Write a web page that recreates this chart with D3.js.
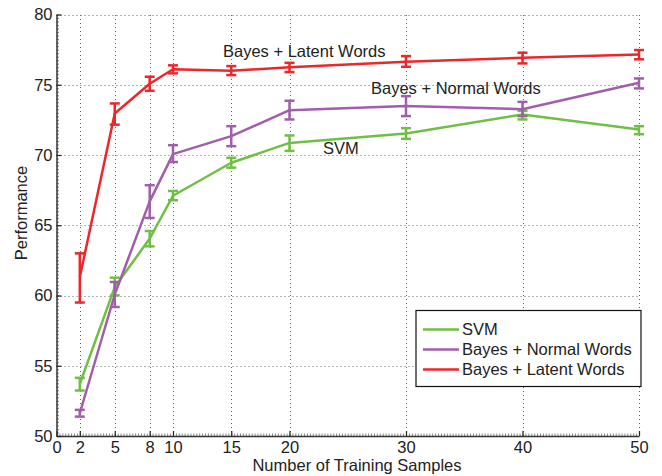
<!DOCTYPE html>
<html>
<head>
<meta charset="utf-8">
<script src="https://cdn.jsdelivr.net/npm/d3@7"></script>
<style>
  html, body { margin: 0; padding: 0; background: #fff; }
  svg { display: block; font-family: "Liberation Sans", Arial, Helvetica, sans-serif; }
</style>
</head>
<body>
<svg id="chart" width="662" height="476"></svg>
<script>
// Training-set sizes on the x axis
const samples = [2, 5, 8, 10, 15, 20, 30, 40, 50];

// SVM: mean performance with lower / upper error bounds
const svmMean = [53.7, 60.6, 64.05, 67.1, 69.45, 70.86, 71.53, 72.89, 71.82];
const svmLow  = [53.24, 60.01, 63.5, 66.78, 69.1, 70.29, 71.15, 72.53, 71.48];
const svmHigh = [54.14, 61.27, 64.59, 67.44, 69.8, 71.39, 71.91, 73.14, 72.05];

// Bayes + Normal Words
const normalMean = [51.62, 60.07, 66.7, 70.06, 71.34, 73.19, 73.48, 73.26, 75.14];
const normalLow  = [51.38, 59.18, 65.52, 69.5, 70.63, 72.53, 72.77, 72.77, 74.74];
const normalHigh = [51.86, 60.96, 67.85, 70.7, 72.05, 73.86, 74.19, 73.78, 75.45];

// Bayes + Latent Words
const latentMean = [61.3, 72.95, 75.07, 76.1, 75.99, 76.24, 76.64, 76.92, 77.16];
const latentLow  = [59.5, 72.16, 74.57, 75.81, 75.69, 75.9, 76.28, 76.52, 76.81];
const latentHigh = [63.0, 73.67, 75.57, 76.38, 76.33, 76.56, 77.04, 77.28, 77.47];

const seriesNames = ["SVM", "Bayes + Normal Words", "Bayes + Latent Words"];
const seriesColors = ["#70bf45", "#a25dac", "#ee2629"];

const xTicks = [0, 2, 5, 8, 10, 15, 20, 30, 40, 50];
const yTicks = [50, 55, 60, 65, 70, 75, 80];

const series = [
  { name: seriesNames[0], color: seriesColors[0], mean: svmMean, low: svmLow, high: svmHigh },
  { name: seriesNames[1], color: seriesColors[1], mean: normalMean, low: normalLow, high: normalHigh },
  { name: seriesNames[2], color: seriesColors[2], mean: latentMean, low: latentLow, high: latentHigh }
];

const svg = d3.select("#chart");
const plotLeft = 56.5, plotRight = 639, plotTop = 14.5, plotBottom = 436;

const x = d3.scaleLinear().domain([0, 50]).range([plotLeft, plotRight]);
const y = d3.scaleLinear().domain([50, 80]).range([plotBottom, plotTop]);

// dotted grid
const grid = svg.append("g").attr("stroke", "#666").attr("stroke-width", 1)
  .attr("stroke-dasharray", "1,3");
grid.selectAll("line.v").data(xTicks.filter(d => d > 0)).join("line")
  .attr("x1", d => Math.round(x(d)) + 0.5).attr("x2", d => Math.round(x(d)) + 0.5)
  .attr("y1", plotBottom).attr("y2", plotTop);
grid.selectAll("line.h").data(yTicks.filter(d => d > 50)).join("line")
  .attr("y1", d => Math.round(y(d)) + 0.5).attr("y2", d => Math.round(y(d)) + 0.5)
  .attr("x1", plotLeft).attr("x2", plotRight);

// minor ticks (inward, grey)
const minorX = d3.range(0, 50.001, 0.25);
const minorY = d3.range(50, 80.001, 0.25);
svg.append("g").attr("transform", `translate(0,${plotBottom})`)
  .call(d3.axisBottom(x).tickValues(minorX).tickSize(-2.5).tickFormat(""))
  .call(g => g.select(".domain").remove())
  .call(g => g.selectAll("line").attr("stroke", "#888"));
svg.append("g").attr("transform", `translate(${plotLeft},0)`)
  .call(d3.axisLeft(y).tickValues(minorY).tickSize(-2.5).tickFormat(""))
  .call(g => g.select(".domain").remove())
  .call(g => g.selectAll("line").attr("stroke", "#888"));

// major axes with inward ticks
const xAxis = svg.append("g").attr("transform", `translate(0,${plotBottom})`)
  .call(d3.axisBottom(x).tickValues(xTicks).tickSize(-5).tickSizeOuter(0).tickPadding(5.5));
const yAxis = svg.append("g").attr("transform", `translate(${plotLeft},0)`)
  .call(d3.axisLeft(y).tickValues(yTicks).tickSize(-5).tickSizeOuter(0).tickPadding(4));
[xAxis, yAxis].forEach(a => {
  a.select(".domain").attr("stroke", "#333").attr("stroke-width", 1.5);
  a.selectAll(".tick line").attr("stroke", "#222").attr("stroke-width", 1.2);
  a.selectAll(".tick text").attr("font-size", 16.5).attr("fill", "#222")
    .attr("font-family", "Liberation Sans, Arial, sans-serif");
});
xAxis.selectAll(".tick text").attr("dy", "0.71em");

// axis titles
svg.append("text").attr("x", 357).attr("y", 470.5).attr("text-anchor", "middle")
  .attr("font-size", 16.5).attr("fill", "#222").text("Number of Training Samples");
svg.append("text").attr("transform", "translate(27,213) rotate(-90)")
  .attr("text-anchor", "middle").attr("font-size", 16.5).attr("fill", "#222").text("Performance");

// series lines and error bars
const line = d3.line().x((d, i) => x(samples[i])).y(d => y(d));
const capHalf = 5;
series.forEach(s => {
  const g = svg.append("g");
  g.append("path").datum(s.mean).attr("d", line).attr("fill", "none")
    .attr("stroke", s.color).attr("stroke-width", 2.5).attr("stroke-linejoin", "round");
  const bars = g.selectAll("g.err").data(samples).join("g")
    .attr("stroke", s.color).attr("stroke-width", 2.5);
  bars.append("line")
    .attr("x1", d => x(d)).attr("x2", d => x(d))
    .attr("y1", (d, i) => y(s.low[i])).attr("y2", (d, i) => y(s.high[i]));
  bars.append("line")
    .attr("x1", d => x(d) - capHalf).attr("x2", d => x(d) + capHalf)
    .attr("y1", (d, i) => y(s.low[i])).attr("y2", (d, i) => y(s.low[i]));
  bars.append("line")
    .attr("x1", d => x(d) - capHalf).attr("x2", d => x(d) + capHalf)
    .attr("y1", (d, i) => y(s.high[i])).attr("y2", (d, i) => y(s.high[i]));
});

// in-plot series labels
const annot = [
  { text: seriesNames[2], x: 223, y: 57 },
  { text: seriesNames[1], x: 371, y: 94 },
  { text: seriesNames[0], x: 323, y: 153.5 }
];
svg.append("g").selectAll("text").data(annot).join("text")
  .attr("x", d => d.x).attr("y", d => d.y)
  .attr("font-size", 16.5).attr("fill", "#222").text(d => d.text);

// legend
const legend = svg.append("g");
legend.append("rect").attr("x", 416).attr("y", 310.5).attr("width", 225).attr("height", 76)
  .attr("fill", "#fff").attr("stroke", "#111").attr("stroke-width", 1.2);
const rows = legend.selectAll("g.row").data(series).join("g")
  .attr("transform", (d, i) => `translate(0,${329.5 + i * 20})`);
rows.append("line").attr("x1", 423).attr("x2", 459).attr("y1", 0).attr("y2", 0)
  .attr("stroke", d => d.color).attr("stroke-width", 2.5);
rows.append("text").attr("x", 462).attr("y", 5).attr("font-size", 16.5).attr("fill", "#222")
  .text(d => d.name);
</script>
</body>
</html>
